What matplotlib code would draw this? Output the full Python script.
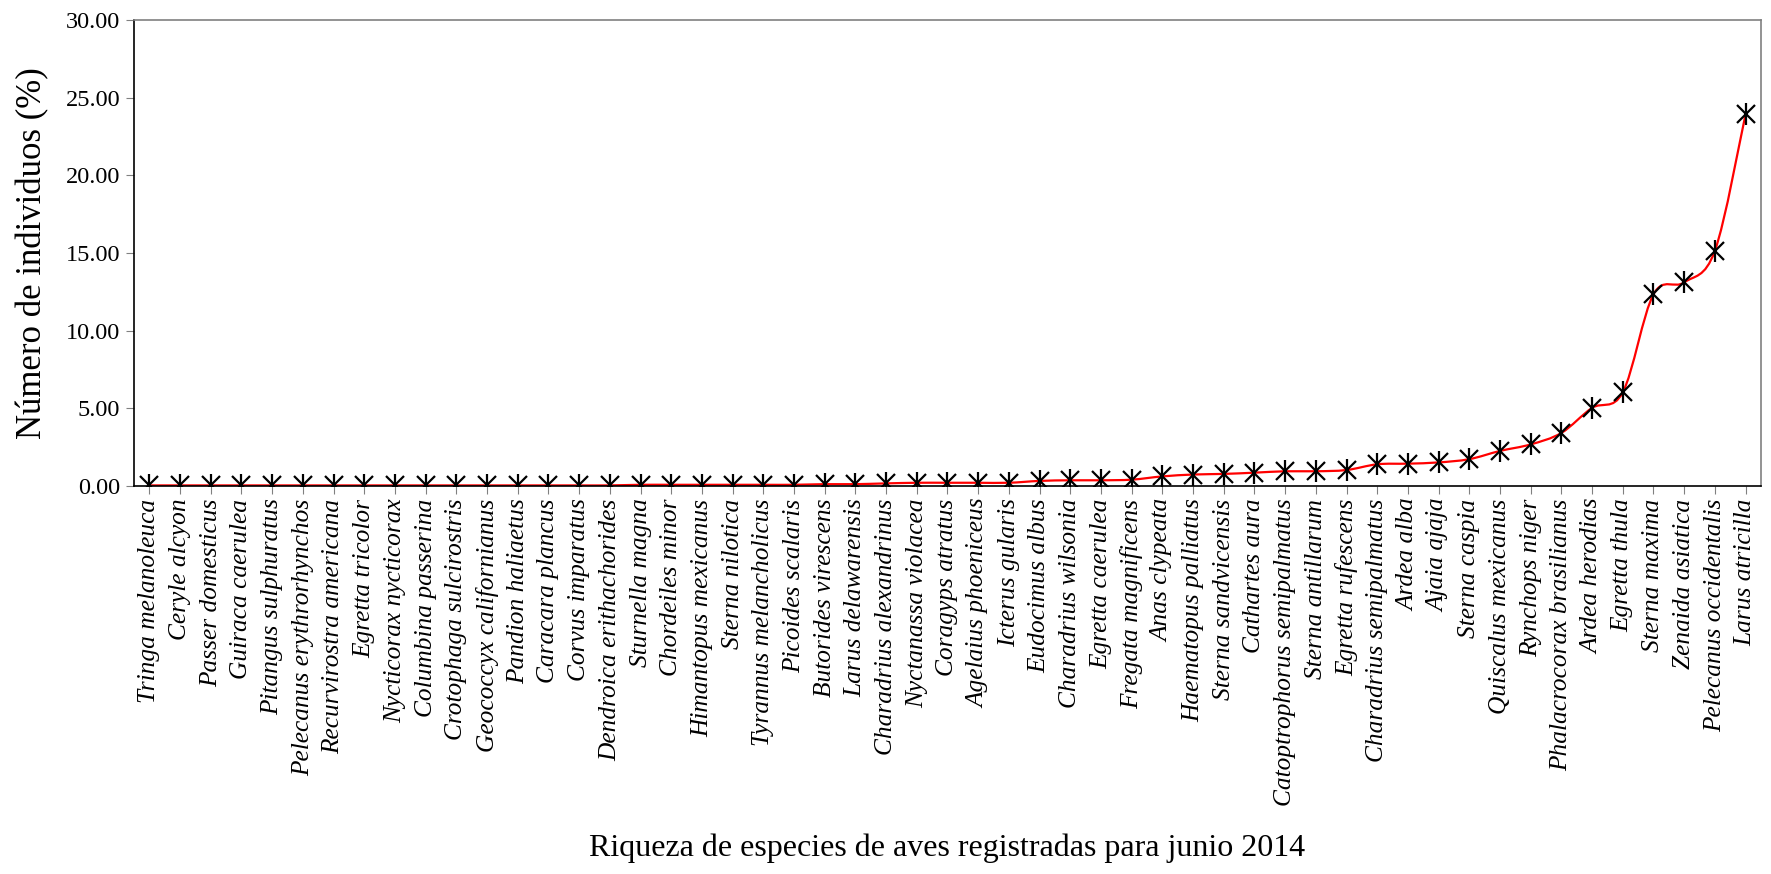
import numpy as np
import matplotlib
matplotlib.use("Agg")
import matplotlib.pyplot as plt
from matplotlib.path import Path
from matplotlib.patches import PathPatch

species = [
    "Tringa melanoleuca", "Ceryle alcyon", "Passer domesticus", "Guiraca caerulea",
    "Pitangus sulphuratus", "Pelecanus erythrorhynchos", "Recurvirostra americana",
    "Egretta tricolor", "Nycticorax nycticorax", "Columbina passerina",
    "Crotophaga sulcirostris", "Geococcyx californianus", "Pandion haliaetus",
    "Caracara plancus", "Corvus imparatus", "Dendroica erithachorides",
    "Sturnella magna", "Chordeiles minor", "Himantopus mexicanus", "Sterna nilotica",
    "Tyrannus melancholicus", "Picoides scalaris", "Butorides virescens",
    "Larus delawarensis", "Charadrius alexandrinus", "Nyctanassa violacea",
    "Coragyps atratus", "Agelaius phoeniceus", "Icterus gularis", "Eudocimus albus",
    "Charadrius wilsonia", "Egretta caerulea", "Fregata magnificens", "Anas clypeata",
    "Haematopus palliatus", "Sterna sandvicensis", "Cathartes aura",
    "Catoptrophorus semipalmatus", "Sterna antillarum", "Egretta rufescens",
    "Charadrius semipalmatus", "Ardea alba", "Ajaia ajaja", "Sterna caspia",
    "Quiscalus mexicanus", "Rynchops niger", "Phalacrocorax brasilianus",
    "Ardea herodias", "Egretta thula", "Sterna maxima", "Zenaida asiatica",
    "Pelecanus occidentalis", "Larus atricilla",
]

percent = [
    0.04, 0.04, 0.04, 0.04, 0.04, 0.04, 0.04, 0.04, 0.04, 0.04,
    0.04, 0.04, 0.04, 0.04, 0.04, 0.04, 0.08, 0.08, 0.08, 0.08,
    0.08, 0.08, 0.12, 0.12, 0.17, 0.21, 0.21, 0.21, 0.21, 0.33,
    0.37, 0.37, 0.41, 0.62, 0.74, 0.78, 0.86, 0.95, 0.95, 1.03,
    1.40, 1.44, 1.52, 1.73, 2.26, 2.68, 3.42, 5.03, 6.03, 12.34,
    13.11, 15.14, 23.93,
]

plt.rcParams['font.family'] = ['Liberation Serif', 'DejaVu Serif']

def smooth_path(x, y):
    # excel-like bezier smoothing through the points
    n = len(x)
    verts = [(x[0], y[0])]
    codes = [Path.MOVETO]
    for i in range(n - 1):
        x0, y0 = (x[i - 1], y[i - 1]) if i > 0 else (x[i], y[i])
        x3, y3 = (x[i + 2], y[i + 2]) if i + 2 < n else (x[i + 1], y[i + 1])
        c1 = (x[i] + (x[i + 1] - x0) / 6, y[i] + (y[i + 1] - y0) / 6)
        c2 = (x[i + 1] - (x3 - x[i]) / 6, y[i + 1] - (y3 - y[i]) / 6)
        verts += [c1, c2, (x[i + 1], y[i + 1])]
        codes += [Path.CURVE4] * 3
    return Path(verts, codes)

xs = np.arange(len(species))
ys = np.array(percent)

fig = plt.figure(figsize=(17.71, 8.74), dpi=100)
ax = fig.add_axes([0.0757, 0.4439, 0.9186, 0.5332])

ax.add_patch(PathPatch(smooth_path(xs, ys), facecolor='none', edgecolor='#ff0000', lw=1.6, zorder=2))
# asterisk marker = x plus a vertical bar
ax.plot(xs, ys, linestyle='none', marker='x', markersize=13, markeredgewidth=1.6,
        color='black', zorder=3)
ax.plot(xs, ys, linestyle='none', marker='|', markersize=16, markeredgewidth=1.6,
        color='black', zorder=3)

ax.set_xlim(-0.5, len(species) - 0.5)
ax.set_ylim(0, 30)
ax.set_yticks(np.arange(0, 31, 5))
ax.set_yticklabels(["%.2f" % v for v in np.arange(0, 31, 5)], fontsize=17.5)
ax.set_xticks(xs)
ax.set_xticklabels(species, rotation=90, fontsize=18.3, style='italic')

ax.tick_params(axis='y', direction='out', length=6, color='#808080', pad=4)
ax.tick_params(axis='x', direction='out', length=6, color='#808080', pad=3)

ax.spines['left'].set_color('black')
ax.spines['bottom'].set_color('black')
ax.spines['top'].set_color('#808080')
ax.spines['right'].set_color('#808080')
for s in ax.spines.values():
    s.set_linewidth(1.2)

ax.set_ylabel("Número de individuos (%)", fontsize=25)
ax.yaxis.set_label_coords(-0.052, 0.5)
ax.set_xlabel("Riqueza de especies de aves registradas para junio 2014", fontsize=23)
ax.xaxis.set_label_coords(0.5, -0.745)

fig.savefig("out.png", dpi=100)
